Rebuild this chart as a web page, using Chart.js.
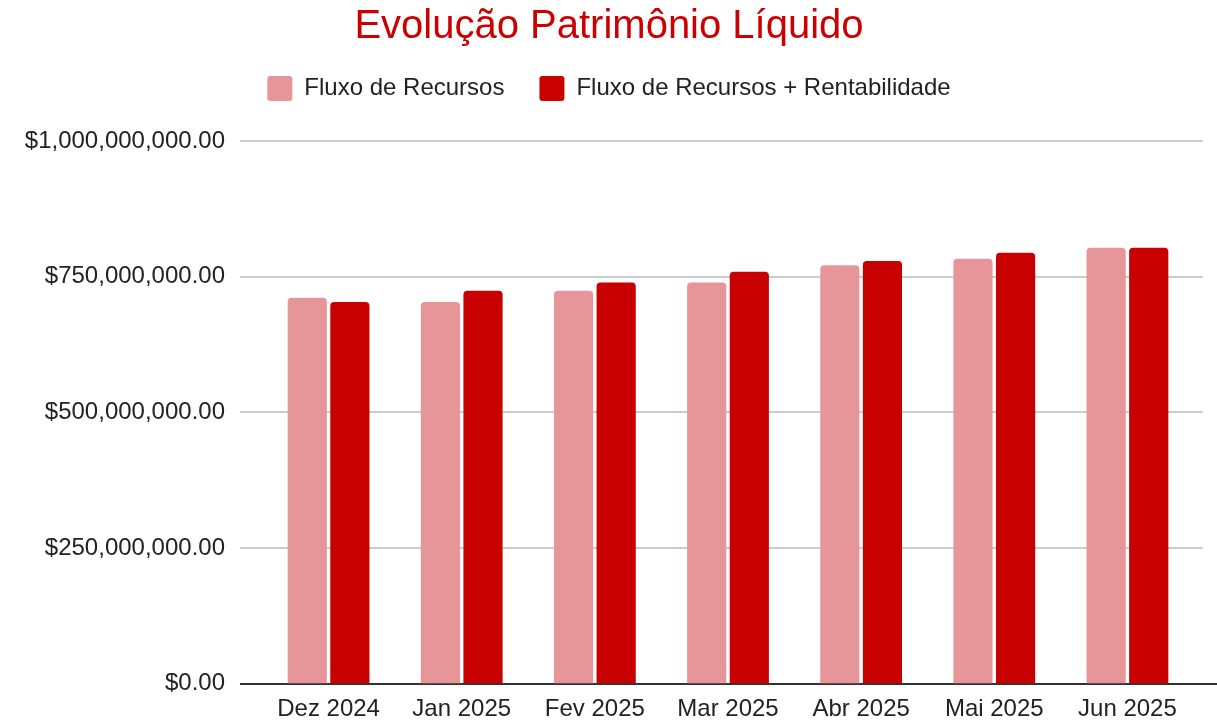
<!DOCTYPE html>
<html>
<head>
<meta charset="utf-8">
<title>Evolução Patrimônio Líquido</title>
<script src="https://cdn.jsdelivr.net/npm/chart.js@4"></script>
<style>
    body { margin: 0; background: #fff; }
    #wrap { width: 1217px; height: 722px; }
</style>
</head>
<body>
<div id="wrap"><canvas id="plChart" width="1217" height="722"></canvas></div>
<script>
// --- Data ---
const months = ['Dez 2024', 'Jan 2025', 'Fev 2025', 'Mar 2025', 'Abr 2025', 'Mai 2025', 'Jun 2025'];
const fluxoRecursos = [711000000, 703000000, 724000000, 739000000, 771000000, 783000000, 803000000];
const fluxoRentabilidade = [703000000, 724000000, 739000000, 759000000, 779000000, 794000000, 803000000];
const yTicks = [0, 250000000, 500000000, 750000000, 1000000000];

const fmtMoney = v => '$' + Number(v).toLocaleString('en-US', { minimumFractionDigits: 2, maximumFractionDigits: 2 });

// Google-style gridlines that run a bit past the plot area
const wideGrid = {
    id: 'wideGrid',
    beforeDatasetsDraw(chart) {
        const { ctx, chartArea, scales } = chart;
        ctx.save();
        yTicks.forEach(t => {
            const y = Math.round(scales.y.getPixelForValue(t));
            ctx.beginPath();
            ctx.lineWidth = 2;
            ctx.strokeStyle = t === 0 ? '#333333' : '#cccccc';
            ctx.moveTo(chartArea.left - 22, y);
            ctx.lineTo(t === 0 ? chartArea.right + 23 : chartArea.right + 9, y);
            ctx.stroke();
        });
        ctx.restore();
    }
};

document.addEventListener('DOMContentLoaded', () => {
    Chart.defaults.font.family = "Arial, 'Liberation Sans', sans-serif";
    Chart.defaults.color = '#222222';

    new Chart(document.getElementById('plChart'), {
        type: 'bar',
        data: {
            labels: months,
            datasets: [{
                label: 'Fluxo de Recursos',
                data: fluxoRecursos,
                backgroundColor: '#e69698',
                borderRadius: 4,
                categoryPercentage: 0.64,
                barPercentage: 0.92
            }, {
                label: 'Fluxo de Recursos + Rentabilidade',
                data: fluxoRentabilidade,
                backgroundColor: '#c90000',
                borderRadius: 4,
                categoryPercentage: 0.64,
                barPercentage: 0.92
            }]
        },
        options: {
            responsive: false,
            animation: false,
            layout: { padding: { left: 24, right: 23, top: 0, bottom: 0 } },
            plugins: {
                title: {
                    display: true,
                    text: 'Evolução Patrimônio Líquido',
                    color: '#cc0000',
                    font: { size: 40, weight: 'normal' },
                    padding: { top: 3, bottom: -10 }
                },
                // empty spacer between legend and plot
                subtitle: {
                    display: true,
                    text: '',
                    weight: 500,
                    font: { size: 10 },
                    padding: { top: 18, bottom: 0 }
                },
                legend: {
                    position: 'top',
                    labels: {
                        boxWidth: 25,
                        boxHeight: 25,
                        useBorderRadius: true,
                        borderRadius: 3,
                        padding: 35,
                        color: '#222222',
                        font: { size: 24 }
                    }
                },
                tooltip: { enabled: false }
            },
            scales: {
                x: {
                    grid: { display: false },
                    border: { display: false },
                    afterFit: axis => { axis.height = 38.5; },
                    ticks: { font: { size: 24 }, color: '#222222', padding: 3, maxRotation: 0 }
                },
                y: {
                    min: 0,
                    max: 1000000000,
                    grid: { display: false, tickLength: 37 },
                    border: { display: false },
                    afterBuildTicks: axis => { axis.ticks = yTicks.map(v => ({ value: v })); },
                    afterFit: axis => { axis.width = 238; },
                    ticks: {
                        font: { size: 24 },
                        color: '#222222',
                        padding: 0,
                        callback: v => fmtMoney(v)
                    }
                }
            }
        },
        plugins: [wideGrid]
    });
});
</script>
</body>
</html>
